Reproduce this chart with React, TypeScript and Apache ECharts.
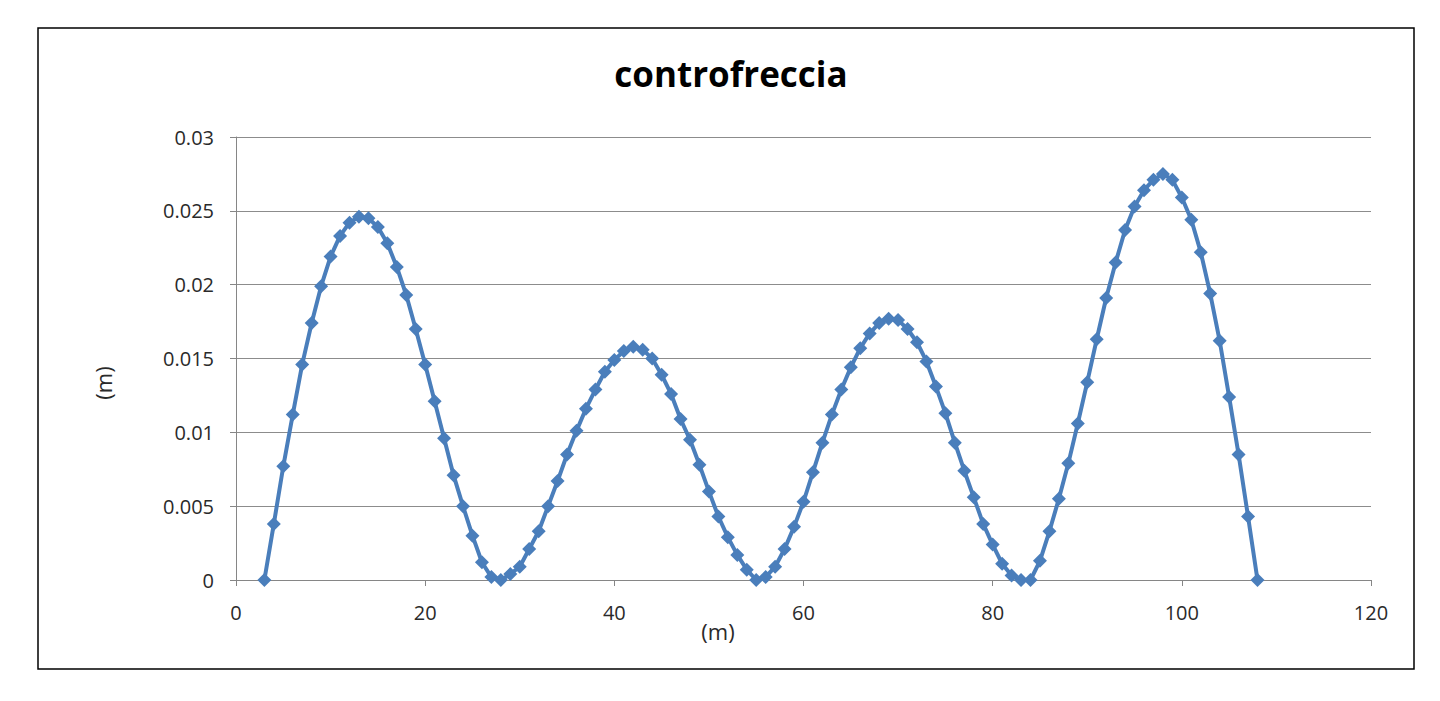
import React, { useEffect, useRef } from "react";
import * as echarts from "echarts";

const positions: number[] = [];
for (let i = 3; i <= 108; i++) positions.push(i);

const deflection: number[] = [
  // 3..28
  0, 0.0038, 0.0077, 0.0112, 0.0146, 0.0174, 0.0199, 0.0219, 0.0233, 0.0242,
  0.0246, 0.0245, 0.0239, 0.0228, 0.0212, 0.0193, 0.017, 0.0146, 0.0121, 0.0096,
  0.0071, 0.005, 0.003, 0.0012, 0.0002, 0,
  // 29..55
  0.0004, 0.0009, 0.0021, 0.0033, 0.005, 0.0067, 0.0085, 0.0101, 0.0116, 0.0129,
  0.0141, 0.0149, 0.0155, 0.0158, 0.0156, 0.015, 0.0139, 0.0126, 0.0109, 0.0095,
  0.0078, 0.006, 0.0043, 0.0029, 0.0017, 0.0007, 0,
  // 56..84
  0.0002, 0.0009, 0.0021, 0.0036, 0.0053, 0.0073, 0.0093, 0.0112, 0.0129, 0.0144,
  0.0157, 0.0167, 0.0174, 0.0177, 0.0176, 0.017, 0.0161, 0.0148, 0.0131, 0.0113,
  0.0093, 0.0074, 0.0056, 0.0038, 0.0024, 0.0011, 0.0003, 0, 0,
  // 85..108
  0.0013, 0.0033, 0.0055, 0.0079, 0.0106, 0.0134, 0.0163, 0.0191, 0.0215, 0.0237,
  0.0253, 0.0264, 0.0271, 0.0275, 0.0271, 0.0259, 0.0244, 0.0222, 0.0194, 0.0162,
  0.0124, 0.0085, 0.0043, 0,
];

const titleText = "controfreccia";
const xAxisName = "(m)";
const yAxisName = "(m)";

export default function App() {
  const ref = useRef<HTMLDivElement>(null);
  useEffect(() => {
    if (!ref.current) return;
    const chart = echarts.init(ref.current, null, { renderer: "svg" });
    const data = positions.map((x, i) => [x, deflection[i]]);
    const labelFont = "'Open Sans', 'DejaVu Sans', sans-serif";
    chart.setOption({
      animation: false,
      backgroundColor: "#ffffff",
      grid: { left: 236, right: 69, top: 137, bottom: 121 },
      xAxis: {
        type: "value",
        min: 0,
        max: 120,
        interval: 20,
        axisLine: { show: true, lineStyle: { color: "#868686", width: 1 } },
        axisTick: { show: true, length: 6, lineStyle: { color: "#868686" } },
        splitLine: { show: false },
        axisLabel: { color: "#2a2a2a", fontSize: 20, fontFamily: labelFont, margin: 22 },
      },
      yAxis: {
        type: "value",
        min: 0,
        max: 0.03,
        interval: 0.005,
        axisLine: { show: true, lineStyle: { color: "#868686", width: 1 } },
        axisTick: { show: true, length: 6, lineStyle: { color: "#868686" } },
        splitLine: { show: true, lineStyle: { color: "#8c8c8c", width: 1 } },
        axisLabel: { color: "#2a2a2a", fontSize: 20, fontFamily: labelFont, margin: 22 },
      },
      series: [
        {
          type: "line",
          data,
          symbol: "diamond",
          symbolSize: 14,
          lineStyle: { color: "#4a7ebb", width: 4 },
          itemStyle: { color: "#4a7ebb" },
        },
      ],
      graphic: [
        {
          type: "rect",
          shape: { x: 38, y: 28, width: 1376, height: 641 },
          style: { fill: "none", stroke: "#000", lineWidth: 1.5 },
          z: 100,
        },
        {
          type: "text",
          x: 731,
          y: 73,
          style: {
            text: titleText,
            font: "bold 35px 'Open Sans', sans-serif",
            fill: "#000",
            textAlign: "center",
            textVerticalAlign: "middle",
          },
        },
        {
          type: "text",
          x: 718,
          y: 631,
          style: {
            text: xAxisName,
            font: "22px 'Open Sans', sans-serif",
            fill: "#2a2a2a",
            textAlign: "center",
            textVerticalAlign: "middle",
          },
        },
        {
          type: "text",
          x: 103,
          y: 383,
          rotation: Math.PI / 2,
          style: {
            text: yAxisName,
            font: "22px 'Open Sans', sans-serif",
            fill: "#2a2a2a",
            textAlign: "center",
            textVerticalAlign: "middle",
          },
        },
      ],
    });
    return () => chart.dispose();
  }, []);
  return (
    <div
      ref={ref}
      style={{ position: "fixed", left: 0, top: 0, width: 1440, height: 701 }}
    />
  );
}
